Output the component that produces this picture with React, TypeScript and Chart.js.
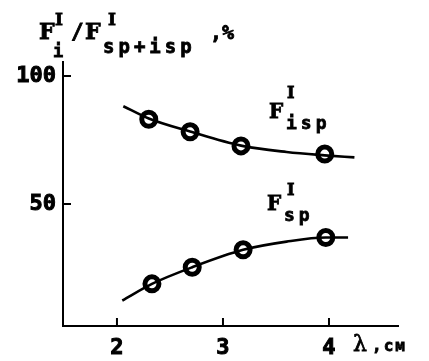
import React, { useEffect, useRef } from "react";
import { Chart, registerables } from "chart.js";

Chart.register(...registerables);

// Data
const ispCurveX = [2.06, 2.3, 2.69, 3.17, 3.6, 3.96, 4.24];
const ispCurveY = [88.2, 83.4, 78.3, 72.8, 70.3, 69.0, 68.2];
const ispPointsX = [2.3, 2.69, 3.17, 3.96];
const ispPointsY = [83.1, 78.2, 72.7, 69.5];

const spCurveX = [2.05, 2.33, 2.71, 3.19, 3.6, 3.97, 4.18];
const spCurveY = [12.3, 18.8, 25.3, 32.1, 35.3, 36.9, 36.9];
const spPointsX = [2.33, 2.71, 3.19, 3.97];
const spPointsY = [18.8, 25.3, 32.1, 36.9];

const xTickValues = [2, 3, 4];
const yTickValues = [50, 100];

const toXY = (xs: number[], ys: number[]) => xs.map((x, i) => ({ x, y: ys[i] }));

const MONO = '"DejaVu Sans Mono", monospace';
const SERIF = '"DejaVu Serif", serif';

const annotationPlugin = {
  id: "annotations",
  afterDraw(chart: any) {
    const ctx = chart.ctx as CanvasRenderingContext2D;
    const xs = chart.scales.x;
    const ys = chart.scales.y;
    const area = chart.chartArea;
    ctx.save();
    // inward tick marks
    ctx.strokeStyle = "#000";
    ctx.lineWidth = 2;
    ctx.beginPath();
    yTickValues.forEach((v) => {
      const p = ys.getPixelForValue(v);
      ctx.moveTo(area.left, p);
      ctx.lineTo(area.left + 8, p);
    });
    xTickValues.forEach((v) => {
      const p = xs.getPixelForValue(v);
      ctx.moveTo(p, area.bottom);
      ctx.lineTo(p, area.bottom - 8);
    });
    ctx.stroke();

    ctx.fillStyle = "#000";
    ctx.strokeStyle = "#000";
    ctx.lineWidth = 0.8;
    ctx.textBaseline = "alphabetic";
    ctx.textAlign = "left";
    const t = (s: string, x: number, y: number, font: string, spacing = 0) => {
      ctx.font = font;
      (ctx as any).letterSpacing = spacing + "px";
      ctx.fillText(s, x, y);
      ctx.strokeText(s, x, y);
    };
    // axis title
    t("F", 39, 39, `bold 22px ${SERIF}`);
    t("I", 55, 25, `bold 17px ${SERIF}`);
    t("i", 53, 57, `bold 17px ${MONO}`);
    t("/", 71, 39, `bold 21px ${MONO}`);
    t("F", 85, 39, `bold 22px ${SERIF}`);
    t("I", 108, 25, `bold 17px ${SERIF}`);
    t("sp+isp", 103, 53, `bold 19px ${MONO}`, 4);
    t(",%", 210, 39, `bold 20px ${MONO}`);
    // series labels
    t("F", 269, 118, `bold 20px ${SERIF}`);
    t("I", 287, 98, `bold 16px ${SERIF}`);
    t("isp", 286, 129, `bold 18px ${MONO}`, 4);
    t("F", 267, 210, `bold 20px ${SERIF}`);
    t("I", 287, 195, `bold 16px ${SERIF}`);
    t("sp", 284, 221, `bold 18px ${MONO}`, 4);
    // x axis unit
    t("λ", 353, 351, `22px ${SERIF}`);
    t(",см", 372, 351, `bold 16px ${MONO}`, 2);
    ctx.restore();
  },
};

export default function App() {
  const ref = useRef<HTMLCanvasElement | null>(null);
  useEffect(() => {
    if (!ref.current) return;
    const ring = {
      type: "scatter" as const,
      showLine: false,
      pointRadius: 7,
      pointBorderWidth: 5,
      pointBorderColor: "#000",
      pointBackgroundColor: "#fff",
    };
    const dot = {
      type: "scatter" as const,
      showLine: false,
      pointRadius: 2,
      pointBorderWidth: 0,
      pointBackgroundColor: "#000",
    };
    const curve = {
      type: "line" as const,
      borderColor: "#000",
      borderWidth: 2.6,
      pointRadius: 0,
      cubicInterpolationMode: "monotone" as const,
      fill: false,
    };
    const tickFont = { family: MONO, size: 22, weight: "bold" as const };
    const chart = new Chart(ref.current, {
      type: "scatter",
      data: {
        datasets: [
          { ...curve, data: toXY(ispCurveX, ispCurveY) },
          { ...curve, data: toXY(spCurveX, spCurveY) },
          { ...ring, data: toXY(ispPointsX, ispPointsY) },
          { ...ring, data: toXY(spPointsX, spPointsY) },
          { ...dot, data: toXY(ispPointsX, ispPointsY) },
          { ...dot, data: toXY(spPointsX, spPointsY) },
        ] as any,
      },
      options: {
        animation: false,
        responsive: true,
        maintainAspectRatio: false,
        layout: { padding: { top: 62, right: 31, left: 0, bottom: 0 } },
        plugins: { legend: { display: false }, tooltip: { enabled: false } },
        scales: {
          x: {
            type: "linear",
            min: 1.491,
            max: 4.651,
            grid: { display: false, drawTicks: false },
            border: { display: true, color: "#000", width: 2 },
            afterBuildTicks: (s: any) => {
              s.ticks = xTickValues.map((v) => ({ value: v }));
            },
            afterFit: (s: any) => {
              s.height = 35;
            },
            ticks: {
              color: "#000",
              padding: 9,
              maxRotation: 0,
              textStrokeColor: "#000",
              textStrokeWidth: 1,
              font: tickFont,
            },
          },
          y: {
            type: "linear",
            min: 2.34,
            max: 105.47,
            grid: { display: false, drawTicks: false },
            border: { display: true, color: "#000", width: 2 },
            afterBuildTicks: (s: any) => {
              s.ticks = yTickValues.map((v) => ({ value: v }));
            },
            afterFit: (s: any) => {
              s.width = 63;
            },
            ticks: {
              color: "#000",
              padding: 7,
              textStrokeColor: "#000",
              textStrokeWidth: 1,
              font: tickFont,
            },
          },
        },
      } as any,
      plugins: [annotationPlugin],
    });
    return () => chart.destroy();
  }, []);
  return (
    <div style={{ position: "fixed", left: 0, top: 0, width: 429, height: 361, background: "#fff" }}>
      <canvas ref={ref} />
    </div>
  );
}
